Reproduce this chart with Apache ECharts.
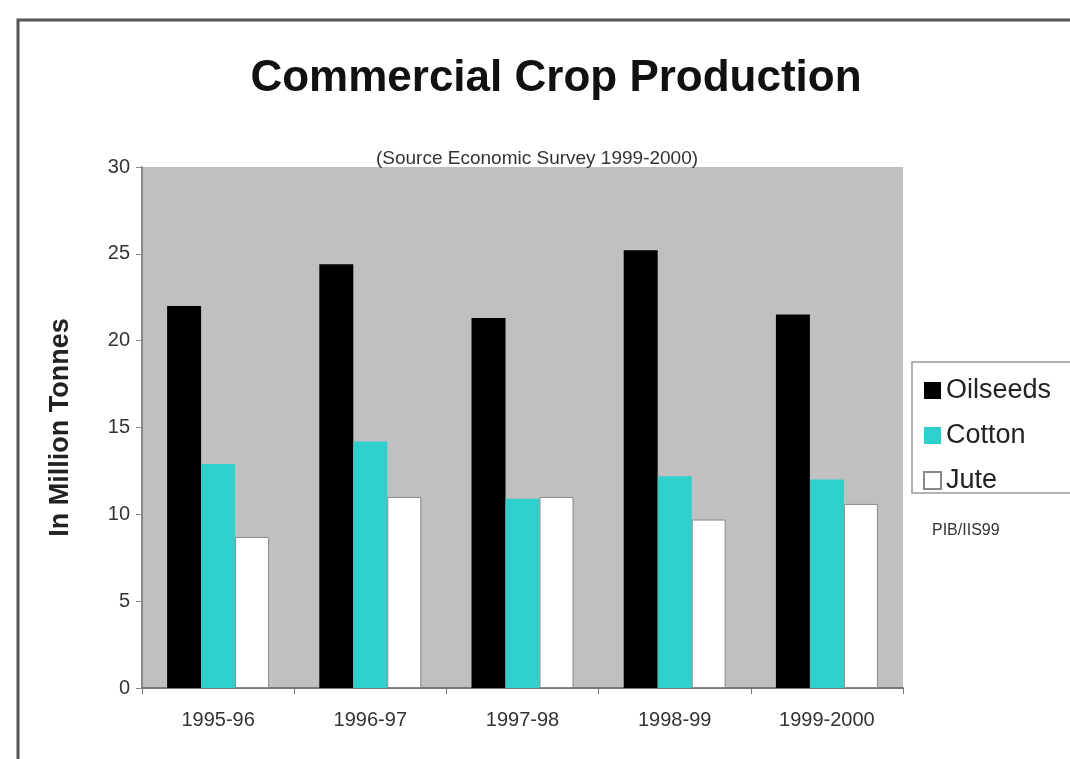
<!DOCTYPE html>
<html>
<head>
<meta charset="utf-8">
<script src="https://cdn.jsdelivr.net/npm/echarts@6/dist/echarts.min.js"></script>
<style>
  html, body { margin: 0; padding: 0; background: #fff; }
  #main { width: 1070px; height: 759px; }
</style>
</head>
<body>
<div id="main"></div>
<script>
// data
var years = ['1995-96', '1996-97', '1997-98', '1998-99', '1999-2000'];
var oilseeds = [22.0, 24.4, 21.3, 25.2, 21.5];
var cotton = [12.9, 14.2, 10.9, 12.2, 12.0];
var jute = [8.7, 11.0, 11.0, 9.7, 10.6];
var yTicks = [0, 5, 10, 15, 20, 25, 30];

var font = '"Liberation Sans", Arial, sans-serif';

var chart = echarts.init(document.getElementById('main'));

var option = {
  animation: false,
  textStyle: { fontFamily: font },
  title: [{
    text: 'Commercial Crop Production',
    left: 551, top: 52, textAlign: 'center',
    textStyle: { fontSize: 44, fontWeight: 'bold', color: '#111', fontFamily: font }
  }, {
    text: '(Source Economic Survey 1999-2000)',
    left: 532, top: 144, textAlign: 'center',
    textStyle: { fontSize: 19, fontWeight: 'normal', color: '#333', fontFamily: font }
  }],
  legend: {
    orient: 'vertical',
    left: 918, top: 372,
    icon: 'rect',
    itemWidth: 17, itemHeight: 17, itemGap: 18,
    textStyle: { fontSize: 27, color: '#222', fontFamily: font },
    data: ['Oilseeds', 'Cotton', 'Jute']
  },
  grid: { left: 142, right: 167, top: 167, bottom: 71, show: true, backgroundColor: '#c0c0c0', borderWidth: 0 },
  xAxis: {
    type: 'category',
    data: years,
    axisLine: { lineStyle: { color: '#777', width: 2 } },
    axisTick: { show: true, length: 6, lineStyle: { color: '#777' } },
    axisLabel: { fontSize: 20, color: '#333', margin: 22, fontFamily: font }
  },
  yAxis: {
    type: 'value',
    min: 0, max: 30, interval: 5,
    name: 'In Million Tonnes',
    nameLocation: 'middle',
    nameGap: 68,
    nameTextStyle: { fontSize: 27, fontWeight: 'bold', color: '#222', fontFamily: font },
    axisLine: { show: true, lineStyle: { color: '#888', width: 2 } },
    axisTick: { show: true, length: 6, lineStyle: { color: '#888' } },
    splitLine: { show: false },
    axisLabel: {
      fontSize: 20, color: '#333', margin: 12, fontFamily: font,
      formatter: function (v) { return yTicks.indexOf(v) >= 0 ? String(v) : ''; }
    }
  },
  series: [{
    name: 'Oilseeds', type: 'bar', data: oilseeds,
    barCategoryGap: '33%', barGap: '0%',
    itemStyle: { color: '#000' }
  }, {
    name: 'Cotton', type: 'bar', data: cotton,
    itemStyle: { color: '#2fd0cc' }
  }, {
    name: 'Jute', type: 'bar', data: jute,
    itemStyle: { color: '#fff', borderColor: '#888', borderWidth: 1 }
  }],
  graphic: [{
    type: 'rect',
    shape: { x: 18, y: 20, width: 1100, height: 800 },
    style: { fill: 'none', stroke: '#555', lineWidth: 3 },
    silent: true
  }, {
    type: 'rect',
    shape: { x: 912, y: 362, width: 200, height: 131 },
    style: { fill: 'none', stroke: '#999', lineWidth: 1.5 },
    silent: true
  }, {
    type: 'text',
    left: 932, top: 523,
    style: { text: 'PIB/IIS99', fontSize: 16, fill: '#333', fontFamily: font }
  }]
};

chart.setOption(option);
</script>
</body>
</html>
